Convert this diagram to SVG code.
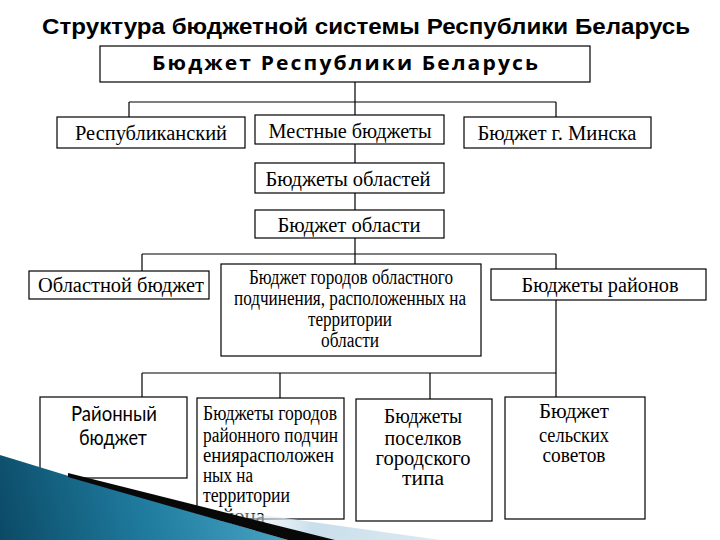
<svg xmlns="http://www.w3.org/2000/svg" width="720" height="540" viewBox="0 0 720 540">
<defs>
<style>
.box{fill:#fff;stroke:#000;stroke-width:1.2}
.ln{fill:none;stroke:#000;stroke-width:1.2}
.t{font-family:"Liberation Serif","Times New Roman",serif;font-size:20px;fill:#000}
.c{text-anchor:middle}
.s{font-family:Lato,"Liberation Sans",sans-serif;font-size:21px;fill:#000;text-anchor:middle}
</style>
<linearGradient id="teal" x1="0" y1="540" x2="280" y2="470" gradientUnits="userSpaceOnUse">
<stop offset="0" stop-color="#0b4a66"/>
<stop offset="0.5" stop-color="#1f7b9e"/>
<stop offset="1" stop-color="#4aa6c6"/>
</linearGradient>
<linearGradient id="pale" x1="200" y1="500" x2="430" y2="540" gradientUnits="userSpaceOnUse">
<stop offset="0" stop-color="#ffffff" stop-opacity="0"/>
<stop offset="0.5" stop-color="#c9dfeb"/>
<stop offset="1" stop-color="#dbe9f1"/>
</linearGradient>
</defs>
<rect width="720" height="540" fill="#fff"/>

<text x="42" y="34" textLength="648" lengthAdjust="spacingAndGlyphs" style="font-family:'Liberation Sans',Arial,sans-serif;font-size:22px;font-weight:bold">Структура бюджетной системы Республики Беларусь</text>

<g id="connectors">
<path class="ln" d="M355 82V102M129 102H556M129 102V117M355 102V115M556 102V117"/>
<path class="ln" d="M355 144V163M355 193V210"/>
<path class="ln" d="M355 238V254M142 254H556M142 254V271M355 254V264M556 254V269"/>
<path class="ln" d="M556 300V373M142 373H556M142 373V397M280 373V398M430 373V399M556 373V397"/>
</g>

<g id="n-rb"><rect class="box" x="100" y="46" width="490" height="36"/>
<text x="152" y="70" textLength="388" lengthAdjust="spacingAndGlyphs" style="font-family:'Open Sans','Liberation Sans',sans-serif;font-size:20px;font-weight:bold;letter-spacing:2px">Бюджет Республики Беларусь</text></g>

<g id="n-resp"><rect class="box" x="57" y="117" width="188" height="31"/>
<text class="t c" x="151" y="140" textLength="152" lengthAdjust="spacingAndGlyphs">Республиканский</text></g>
<g id="n-mest"><rect class="box" x="255" y="115" width="189" height="29"/>
<text class="t c" x="350" y="138" textLength="163" lengthAdjust="spacingAndGlyphs">Местные бюджеты</text></g>
<g id="n-minsk"><rect class="box" x="464" y="117" width="187" height="31"/>
<text class="t c" x="557" y="140" textLength="159" lengthAdjust="spacingAndGlyphs">Бюджет г. Минска</text></g>

<g id="n-oblasti"><rect class="box" x="255" y="163" width="189" height="30"/>
<text class="t c" x="348" y="186" textLength="165" lengthAdjust="spacingAndGlyphs">Бюджеты областей</text></g>
<g id="n-oblast"><rect class="box" x="255" y="210" width="189" height="28"/>
<text class="t c" x="349" y="232" textLength="143" lengthAdjust="spacingAndGlyphs">Бюджет области</text></g>

<g id="n-obl-b"><rect class="box" x="29" y="271" width="180" height="28"/>
<text class="t c" x="121" y="292" textLength="166" lengthAdjust="spacingAndGlyphs">Областной бюджет</text></g>
<g id="n-gor-obl"><rect class="box" x="221" y="264" width="260" height="92"/>
<text class="t c" x="351" y="284" textLength="204" lengthAdjust="spacingAndGlyphs">Бюджет городов областного</text>
<text class="t c" x="350" y="305" textLength="232" lengthAdjust="spacingAndGlyphs">подчинения, расположенных на</text>
<text class="t c" x="350" y="326" textLength="84" lengthAdjust="spacingAndGlyphs">территории</text>
<text class="t c" x="350" y="347" textLength="58" lengthAdjust="spacingAndGlyphs">области</text></g>
<g id="n-rayony"><rect class="box" x="491" y="269" width="215" height="31"/>
<text class="t c" x="600" y="292" textLength="157" lengthAdjust="spacingAndGlyphs">Бюджеты районов</text></g>

<g id="n-rayon"><rect class="box" x="40" y="397" width="147" height="81"/>
<text class="s" x="114" y="421" textLength="86" lengthAdjust="spacingAndGlyphs">Районный</text>
<text class="s" x="113" y="445" textLength="68" lengthAdjust="spacingAndGlyphs">бюджет</text></g>
<g id="n-gor-ray"><rect class="box" x="197" y="398" width="147" height="121"/>
<text class="t" x="203" y="420" textLength="134" lengthAdjust="spacingAndGlyphs">Бюджеты городов</text>
<text class="t" x="203" y="442" textLength="135" lengthAdjust="spacingAndGlyphs">районного подчин</text>
<text class="t" x="203" y="462" textLength="131" lengthAdjust="spacingAndGlyphs">ениярасположен</text>
<text class="t" x="203" y="482" textLength="50" lengthAdjust="spacingAndGlyphs">ных на</text>
<text class="t" x="203" y="502" textLength="87" lengthAdjust="spacingAndGlyphs">территории</text>
<text class="t" x="203" y="523" textLength="62" lengthAdjust="spacingAndGlyphs">района</text></g>
<g id="n-pos"><rect class="box" x="356" y="399" width="136" height="122"/>
<text class="t c" x="423" y="423" textLength="78" lengthAdjust="spacingAndGlyphs">Бюджеты</text>
<text class="t c" x="423" y="445" textLength="77" lengthAdjust="spacingAndGlyphs">поселков</text>
<text class="t c" x="423" y="465" textLength="95" lengthAdjust="spacingAndGlyphs">городского</text>
<text class="t c" x="423" y="485" textLength="42" lengthAdjust="spacingAndGlyphs">типа</text></g>
<g id="n-sel"><rect class="box" x="505" y="397" width="140" height="122"/>
<text class="t c" x="574" y="418" textLength="70" lengthAdjust="spacingAndGlyphs">Бюджет</text>
<text class="t c" x="574" y="442" textLength="70" lengthAdjust="spacingAndGlyphs">сельских</text>
<text class="t c" x="574" y="462" textLength="63" lengthAdjust="spacingAndGlyphs">советов</text></g>

<g id="decoration">
<polygon points="200,506 440,540 330,540" fill="url(#pale)"/>
<polygon points="0,455 72,477 288,540 0,540" fill="url(#teal)"/>
<polygon points="68,473 335,540 288,540 68,477" fill="#080808"/>
</g>
</svg>
